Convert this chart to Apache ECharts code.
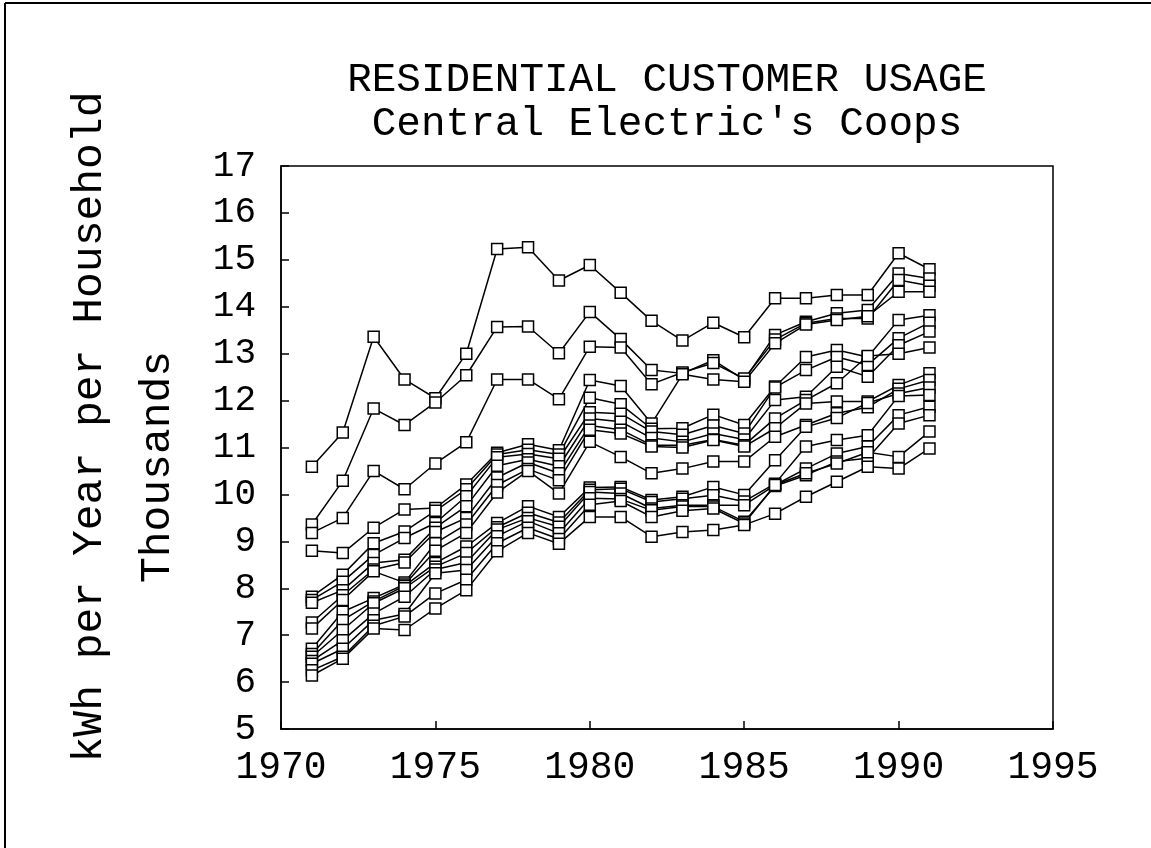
<!DOCTYPE html>
<html>
<head>
<meta charset="utf-8">
<script src="https://cdn.jsdelivr.net/npm/echarts@6/dist/echarts.min.js"></script>
<style>
html,body{margin:0;padding:0;background:#fff;}
#chart{width:1151px;height:848px;}
</style>
</head>
<body>
<div id="chart"></div>
<script>
const years = [1971,1972,1973,1974,1975,1976,1977,1978,1979,1980,1981,1982,1983,1984,1985,1986,1987,1988,1989,1990,1991];
const titleLine1 = "RESIDENTIAL CUSTOMER USAGE";
const titleLine2 = "Central Electric's Coops";
const yName1 = "kWh per Year per Household";
const yName2 = "Thousands";

const coopA = [10.59,11.32,13.36,12.45,12.05,13.00,15.23,15.27,14.56,14.89,14.30,13.70,13.28,13.66,13.35,14.18,14.18,14.25,14.25,15.14,14.80];
const coopB = [9.36,10.29,11.83,11.48,11.96,12.54,13.57,13.58,13.01,13.89,13.31,12.65,12.58,12.86,12.44,13.40,13.68,13.86,13.93,14.71,14.60];
const coopC = [9.18,9.50,10.50,10.11,10.66,11.11,12.45,12.45,12.03,13.15,13.13,12.35,12.60,12.80,12.47,13.30,13.65,13.75,13.75,14.57,14.45];
const coopD = [8.80,8.75,9.29,9.68,9.71,10.21,10.89,11.07,10.94,12.44,12.31,11.51,12.56,12.45,12.40,13.22,13.62,13.72,13.80,14.32,14.32];
const coopE = [7.82,8.29,8.96,9.21,9.65,10.11,10.85,10.95,10.85,12.06,11.92,11.40,11.41,11.70,11.48,12.30,12.93,13.08,12.93,13.72,13.82];
const coopF = [7.75,8.14,8.71,9.07,9.39,9.96,10.79,10.86,10.76,11.75,11.72,11.34,11.27,11.47,11.30,12.28,12.65,12.93,12.76,13.33,13.66];
const coopG = [7.69,7.96,8.54,8.61,9.29,9.75,10.61,10.75,10.60,11.62,11.55,11.20,11.12,11.30,11.17,12.01,12.08,12.72,12.51,13.18,13.47];
const coopH = [7.27,7.85,8.40,8.55,9.20,9.50,10.36,10.68,10.45,11.47,11.38,11.05,11.05,11.17,11.05,11.62,12.01,12.37,12.95,13.00,13.13];
const coopI = [7.14,7.75,8.36,8.12,8.96,9.36,10.20,10.54,10.30,11.38,11.30,11.02,11.00,11.16,11.02,11.41,11.94,11.98,11.98,12.33,12.58];
const coopJ = [6.71,7.50,7.79,8.08,8.80,9.18,10.04,10.50,10.02,11.12,10.80,10.45,10.55,10.70,10.70,11.23,11.48,11.73,11.86,12.25,12.44];
const coopK = [6.60,7.32,7.72,8.05,8.54,8.89,9.39,9.75,9.52,10.15,10.16,9.88,9.95,10.16,9.99,10.73,11.44,11.63,11.95,12.15,12.28];
const coopL = [6.54,7.11,7.68,8.00,8.46,8.75,9.30,9.61,9.40,10.10,10.12,9.84,9.91,9.98,9.85,10.23,11.02,11.16,11.26,12.10,12.12];
const coopM = [6.45,6.89,7.46,7.82,8.40,8.55,9.25,9.50,9.31,10.05,10.02,9.70,9.77,9.77,9.77,10.20,10.55,10.87,11.02,11.69,11.87];
const coopN = [6.39,6.71,7.32,7.45,8.32,8.39,9.11,9.43,9.17,9.92,9.90,9.66,9.74,9.74,9.42,10.18,10.41,10.70,10.77,11.51,11.69];
const coopO = [6.25,6.54,7.20,7.40,7.89,8.18,8.96,9.29,9.05,9.78,9.86,9.52,9.65,9.70,9.38,10.20,10.45,10.66,10.90,10.80,11.34];
const coopP = [6.14,6.50,7.14,7.11,7.57,7.96,8.79,9.18,8.95,9.52,9.52,9.10,9.20,9.24,9.35,9.59,9.95,10.27,10.59,10.55,10.98];

const allCoops = [coopA,coopB,coopC,coopD,coopE,coopF,coopG,coopH,coopI,coopJ,coopK,coopL,coopM,coopN,coopO,coopP];
const coopNames = ['A','B','C','D','E','F','G','H','I','J','K','L','M','N','O','P'];

const FONT = 'Liberation Mono';
const chart = echarts.init(document.getElementById('chart'), null, {renderer:'canvas'});

const series = allCoops.map((vals, i) => ({
  name: coopNames[i],
  type: 'line',
  data: years.map((y, k) => [y, vals[k]]),
  symbol: 'rect',
  symbolSize: 11,
  showAllSymbol: true,
  lineStyle: {color:'#000', width:1.5},
  itemStyle: {color:'#fff', borderColor:'#000', borderWidth:1.5},
  emphasis: {disabled:true},
  animation: false,
  z: 3
}));

chart.setOption({
  backgroundColor: '#fff',
  animation: false,
  title: {
    text: titleLine1 + '\n' + titleLine2,
    left: 662, top: 53, textAlign: 'center',
    textStyle: {fontFamily: FONT, fontSize: 41, fontWeight: 'normal', color:'#000', lineHeight: 44}
  },
  grid: {left: 281, right: 98, top: 166, bottom: 119, show: true, borderColor:'#000', borderWidth: 1.5, backgroundColor:'transparent'},
  xAxis: {
    type: 'value', min: 1970, max: 1995, interval: 5,
    axisLine: {show:true, onZero:false, lineStyle:{color:'#000', width:1.5}},
    axisTick: {show:true, inside:true, length:8, lineStyle:{color:'#000', width:1.5}},
    splitLine: {show:false},
    axisLabel: {fontFamily: FONT, fontSize: 38, color:'#000', margin: 20, formatter: v => String(v)}
  },
  yAxis: {
    type: 'value', min: 5, max: 17, interval: 1,
    axisLine: {show:true, lineStyle:{color:'#000', width:1.5}},
    axisTick: {show:true, inside:true, length:8, lineStyle:{color:'#000', width:1.5}},
    splitLine: {show:false},
    axisLabel: {fontFamily: FONT, fontSize: 36, color:'#000', margin: 25}
  },
  graphic: [
    {type:'line', shape:{x1:5, y1:3, x2:5, y2:848}, style:{stroke:'#000', lineWidth:2}},
    {type:'line', shape:{x1:5, y1:3, x2:1151, y2:3}, style:{stroke:'#000', lineWidth:2}},
    {type:'text', x: 90, y: 427, rotation: Math.PI/2,
     style:{text: yName1, font: '43px "Liberation Mono"', fill:'#000', textAlign:'center', textVerticalAlign:'middle'}},
    {type:'text', x: 158, y: 467, rotation: Math.PI/2,
     style:{text: yName2, font: '43px "Liberation Mono"', fill:'#000', textAlign:'center', textVerticalAlign:'middle'}}
  ],
  series: series
});
</script>
</body>
</html>
